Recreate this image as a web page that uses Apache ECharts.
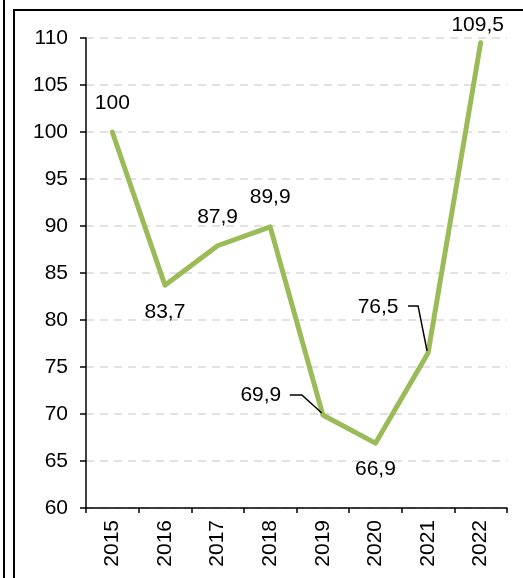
<!DOCTYPE html>
<html>
<head>
<meta charset="utf-8">
<script src="https://cdn.jsdelivr.net/npm/echarts@6/dist/echarts.min.js"></script>
<style>
  html, body { margin: 0; padding: 0; background: #fff; }
  #chart { width: 523px; height: 578px; }
</style>
</head>
<body>
<div id="chart"></div>
<script>
// данные
var years = ['2015', '2016', '2017', '2018', '2019', '2020', '2021', '2022'];
var values = [100, 83.7, 87.9, 89.9, 69.9, 66.9, 76.5, 109.5];
var yTicks = [60, 65, 70, 75, 80, 85, 90, 95, 100, 105, 110];

// сдвиг подписей относительно точки
var labelShift = [[0, -29], [0, 27], [0, -29], [0, -30], [-62, -20], [0, 26], [-50, -46], [-3, -17]];
// выноски: индекс точки и излом (относительно точки)
var leaders = [
  { idx: 4, bend: [-21, -20], end: [-33, -20] },
  { idx: 6, bend: [-10, -47], end: [-20, -47] }
];

var chart = echarts.init(document.getElementById('chart'));
var font = 'Liberation Sans, Arial, sans-serif';
var fs = 21;

var frame = [
  { type: 'line', shape: { x1: 4, y1: 0, x2: 4, y2: 578 }, style: { stroke: '#000', lineWidth: 2 } },
  { type: 'line', shape: { x1: 14, y1: 10, x2: 14, y2: 578 }, style: { stroke: '#000', lineWidth: 2 } },
  { type: 'line', shape: { x1: 13, y1: 10, x2: 523, y2: 10 }, style: { stroke: '#000', lineWidth: 2 } }
];

var option = {
  animation: false,
  textStyle: { fontFamily: font },
  grid: { left: 86, right: 16, top: 38, bottom: 70 },
  graphic: frame,
  xAxis: {
    type: 'category',
    data: years,
    boundaryGap: true,
    axisLine: { lineStyle: { color: '#000', width: 1.5 } },
    axisTick: { show: true, length: 5, interval: 0, lineStyle: { color: '#000', width: 1.5 } },
    axisLabel: { rotate: 90, margin: 12, fontSize: fs, color: '#000', fontFamily: font, interval: 0 }
  },
  yAxis: {
    type: 'value',
    min: yTicks[0],
    max: yTicks[yTicks.length - 1],
    interval: 5,
    axisLine: { show: true, lineStyle: { color: '#000', width: 1.5 } },
    axisTick: { show: true, length: 6, lineStyle: { color: '#000', width: 1.5 } },
    axisLabel: { margin: 18, fontSize: fs, color: '#000', fontFamily: font },
    splitLine: { show: true, lineStyle: { color: '#d9d9d9', width: 1.5, type: [8, 6] } }
  },
  series: [{
    type: 'line',
    data: values,
    symbol: 'circle',
    symbolSize: 1,
    showSymbol: true,
    itemStyle: { color: '#9bbb59' },
    lineStyle: { color: '#9bbb59', width: 5, cap: 'round', join: 'round' },
    label: {
      show: true,
      position: 'inside',
      fontSize: fs,
      color: '#000',
      fontFamily: font,
      formatter: function (p) { return String(p.value).replace('.', ','); }
    },
    labelLayout: function (params) {
      var s = labelShift[params.dataIndex];
      return { dx: s[0], dy: s[1] };
    }
  }]
};
chart.setOption(option);

// выноски для 2019 и 2021
var lines = leaders.map(function (l) {
  var p = chart.convertToPixel({ seriesIndex: 0 }, [l.idx, values[l.idx]]);
  return {
    type: 'polyline',
    shape: { points: [[p[0] - 1, p[1] - 2], [p[0] + l.bend[0], p[1] + l.bend[1]], [p[0] + l.end[0], p[1] + l.end[1]]] },
    style: { stroke: '#000', lineWidth: 1.5, fill: null },
    z: 10
  };
});
chart.setOption({ graphic: frame.concat(lines) });
</script>
</body>
</html>
